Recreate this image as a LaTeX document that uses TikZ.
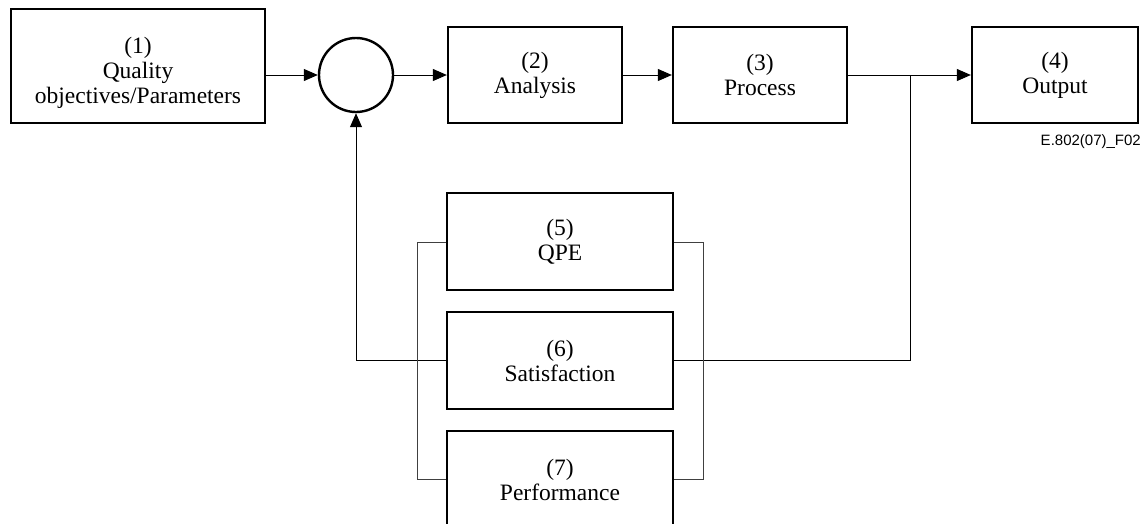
\documentclass[tikz,border=0pt]{standalone}
\usepackage{fontspec}
\setmainfont{Liberation Serif}
\newfontfamily\labelfont{Liberation Sans}
\usetikzlibrary{arrows.meta,calc}
\begin{document}
\begin{tikzpicture}[x=1pt,y=-1pt,
  blk/.style={draw, line width=2.3pt, rectangle, inner sep=0pt},
  txt/.style={align=center, font=\fontsize{23.5}{25}\selectfont, inner sep=0pt},
  conn/.style={line width=1pt},
  flow/.style={conn, -{Triangle[length=14pt,width=12pt]}},
  brace/.style={line width=0.9pt, draw=black!75}]
\useasboundingbox (0,0) rectangle (1144,523);
\clip (0,0) rectangle (1144,523);

% top row
\node[blk, minimum width=254pt, minimum height=114pt] (b1) at (138,66) {};
\node[txt] (t1) at (138,73) {(1)\\Quality\\objectives/Parameters};
\node[draw, line width=2.4pt, circle, minimum size=74pt, inner sep=0pt] (sum) at (356,75) {};
\node[blk, minimum width=174pt, minimum height=96pt, txt] (b2) at (535,75) {(2)\\Analysis};
\node[blk, minimum width=174pt, minimum height=96pt, txt] (b3) at (760,75) {(3)\\Process};
\node[blk, minimum width=166pt, minimum height=96pt, txt] (b4) at (1055,75) {(4)\\Output};
\node[anchor=base east, inner sep=0pt, font=\labelfont\fontsize{15}{17}\selectfont] (fig) at (1141,145) {E.802(07)\_F02};

% lower stack
\node[blk, minimum width=226pt, minimum height=97pt, txt] (b5) at (560,241.5) {(5)\\QPE};
\node[blk, minimum width=226pt, minimum height=97pt, txt] (b6) at (560,360.5) {(6)\\Satisfaction};
\node[blk, minimum width=226pt, minimum height=97pt, txt] (b7) at (560,479.5) {(7)\\Performance};

% main flow
\draw[flow] (b1.east |- sum.west) -- (sum.west);
\draw[flow] (sum.east) -- (b2.west);
\draw[flow] (b2.east) -- (b3.west);
\draw[flow] (b3.east) -- (b4.west);
\coordinate (tap) at (910,75);

% feedback loop
\draw[conn] (b6.east) -- (tap |- b6.east) -- (tap);
\coordinate (fbk) at (356,360.5);
\draw[flow] (b6.west) -- (fbk) -- (sum.south);

% side brackets joining 5, 6 and 7
\coordinate (lb) at (417,0);
\coordinate (rb) at (703,0);
\draw[brace] ($(b5.west)+(0,0.5)$) -- (lb |- {$(b5.west)+(0,0.5)$}) -- (lb |- {$(b7.west)+(0,-0.5)$}) -- ($(b7.west)+(0,-0.5)$);
\draw[brace] ($(b5.east)+(0,0.5)$) -- (rb |- {$(b5.east)+(0,0.5)$}) -- (rb |- {$(b7.east)+(0,-0.5)$}) -- ($(b7.east)+(0,-0.5)$);
\end{tikzpicture}
\end{document}
